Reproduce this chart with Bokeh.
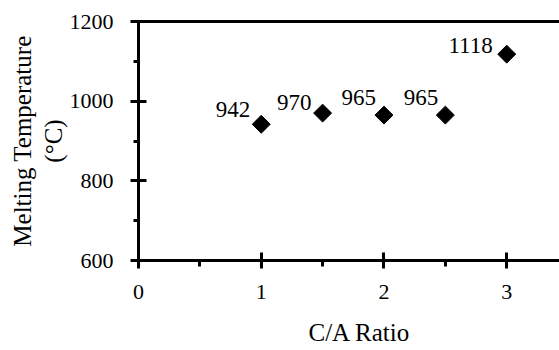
import numpy as np
from bokeh.plotting import figure
from bokeh.models import ColumnDataSource, FixedTicker, LinearAxis, Title, Range1d
from bokeh.core.properties import value
from bokeh.embed import file_html
from bokeh.resources import INLINE

# data
ca_ratio = [1.0, 1.5, 2.0, 2.5, 3.0]
melting_temp = [942, 970, 965, 965, 1118]
x_ticks = [0, 1, 2, 3]
x_minor = [0.5, 1.5, 2.5, 3.5]
y_ticks = [600, 800, 1000, 1200]
y_minor = [700, 900, 1100]

x_title = "C/A Ratio"
y_title_1 = "Melting Temperature"
y_title_2 = "(°C)"

# label offsets (screen pixels, style only)
label_dx = [-11, -11, -8, -7, -14]
label_dy = [-15, -11, -18, -18, -9]

FONT = "'Liberation Serif', serif"
W, H = 559, 350
LEFT, TOP, BOTTOM = 138, 21, 90

x_end = 3.43
x_range = Range1d(0, x_end)
y_range = Range1d(600, 1200)

p = figure(width=W, height=H, x_range=x_range, y_range=y_range,
           output_backend="svg", toolbar_location=None,
           min_border_left=LEFT, min_border_right=0,
           min_border_top=TOP, min_border_bottom=BOTTOM)
p.outline_line_color = None
p.xgrid.visible = False
p.ygrid.visible = False
p.background_fill_color = "white"
p.border_fill_color = "white"

for ax in (p.xaxis[0], p.yaxis[0]):
    ax.axis_line_width = 3
    ax.axis_line_color = "black"
    ax.major_tick_line_width = 3
    ax.minor_tick_line_width = 3
    ax.major_tick_line_color = "black"
    ax.minor_tick_line_color = "black"
    ax.major_tick_in = 8
    ax.major_tick_out = 8
    ax.minor_tick_in = 0
    ax.major_label_text_font = FONT
    ax.major_label_text_font_size = "22px"
    ax.major_label_text_color = "black"

p.xaxis[0].ticker = FixedTicker(ticks=x_ticks, minor_ticks=x_minor)
p.xaxis[0].minor_tick_out = 6
p.xaxis[0].major_label_standoff = 16
p.yaxis[0].ticker = FixedTicker(ticks=y_ticks, minor_ticks=y_minor)
p.yaxis[0].minor_tick_out = 5
p.yaxis[0].major_label_standoff = 17

top_axis = LinearAxis(ticker=FixedTicker(ticks=[]), axis_line_width=3,
                      axis_line_color="black", major_label_text_font_size="0px",
                      major_tick_out=0, major_tick_in=0, minor_tick_out=0, minor_tick_in=0)
p.add_layout(top_axis, "above")

src = ColumnDataSource(dict(x=ca_ratio, y=melting_temp,
                            label=[str(v) for v in melting_temp],
                            dx=label_dx, dy=label_dy))
p.scatter("x", "y", source=src, marker="square", angle=np.pi / 4, size=12.7,
          fill_color="black", line_color="black")
p.text("x", "y", text="label", source=src, x_offset="dx", y_offset="dy",
       text_align="right", text_baseline="alphabetic",
       text_font=value(FONT), text_font_size="23px", text_color="black")

# axis titles as plot titles in the side panels
tb = Title(text=x_title, align="left", offset=170, standoff=4,
           padding=(0, 0, 13, 0),
           text_font=FONT, text_font_size="25px", text_font_style="normal",
           text_color="black")
p.add_layout(tb, "below")
tl2 = Title(text=y_title_2, align="center", offset=-1, standoff=0,
            text_font=FONT, text_font_size="25px", text_font_style="normal",
            text_color="black")
p.add_layout(tl2, "left")
tl1 = Title(text=y_title_1, align="center", offset=-6, standoff=3,
            text_font=FONT, text_font_size="25px", text_font_style="normal",
            text_color="black")
p.add_layout(tl1, "left")

open("out.html", "w").write(file_html(p, INLINE))
